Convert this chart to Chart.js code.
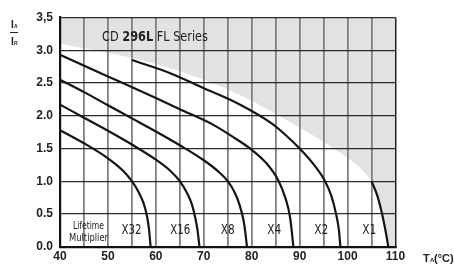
<!DOCTYPE html>
<html><head><meta charset="utf-8">
<script src="https://cdn.jsdelivr.net/npm/chart.js@4.4.1/dist/chart.umd.min.js"></script>
<style>html,body{margin:0;padding:0;background:#fff;}#wrap{width:454px;height:264px;position:relative;}</style>
</head><body><div id="wrap"><canvas id="c" width="454" height="264"></canvas></div>
<script>
// ---- data ----
const xTickLabels = [40, 50, 60, 70, 80, 90, 100, 110];
const yTickLabels = ['0.0', '0.5', '1.0', '1.5', '2.0', '2.5', '3.0', '3,5'];
const multiplierLabels = ['X32', 'X16', 'X8', 'X4', 'X2', 'X1'];
const titleParts = ['CD ', '296L', ' FL Series'];

const tempX32 = [40, 45, 50, 53, 55, 56.5, 57.5, 58.2, 58.6, 58.9];
const currX32 = [1.78, 1.58, 1.35, 1.17, 1.00, 0.82, 0.65, 0.45, 0.25, 0.00];
const tempX16 = [40, 45, 50, 55, 60, 63, 65, 66.5, 67.5, 68.2, 68.7, 69.1];
const currX16 = [2.17, 1.97, 1.77, 1.56, 1.33, 1.16, 1.00, 0.82, 0.65, 0.45, 0.25, 0.00];
const tempX8  = [40, 45, 50, 55, 60, 65, 70, 73, 75, 76.5, 77.5, 78.3, 78.7, 79.0];
const currX8  = [2.55, 2.36, 2.16, 1.96, 1.76, 1.55, 1.32, 1.15, 1.00, 0.82, 0.63, 0.40, 0.20, 0.00];
const tempX4  = [40, 50, 60, 65, 72, 76, 80, 83, 85.5, 87, 88, 88.7];
const currX4  = [2.93, 2.60, 2.27, 2.10, 1.86, 1.68, 1.48, 1.28, 1.02, 0.75, 0.45, 0.00];
const tempX2  = [55, 63, 70, 77, 84, 87, 90, 93, 95.3, 96.6, 97.6, 98.2, 98.5];
const currX2  = [2.85, 2.65, 2.42, 2.19, 1.89, 1.71, 1.50, 1.25, 1.00, 0.78, 0.50, 0.25, 0.00];
const tempX1  = [105, 106.2, 107.2, 107.9, 108.5];
const currX1  = [1.00, 0.78, 0.50, 0.25, 0.00];
const tempLimit = [40, 45, 50, 55, 60, 65, 70, 75, 80, 85, 90, 95, 100, 103, 105, 106.2, 107.2, 107.9, 108.5, 110];
const currLimit = [3.10, 3.03, 2.96, 2.88, 2.79, 2.68, 2.55, 2.40, 2.23, 2.03, 1.82, 1.60, 1.36, 1.18, 1.00, 0.78, 0.50, 0.25, 0.00, 0.00];

const curves = [
  [tempX32, currX32], [tempX16, currX16], [tempX8, currX8],
  [tempX4, currX4], [tempX2, currX2], [tempX1, currX1]
];
const pts = (t, v) => t.map((x, i) => ({x: x, y: v[i]}));

const datasets = [{
  data: pts(tempLimit, currLimit),
  borderWidth: 0, borderColor: 'rgba(0,0,0,0)', backgroundColor: '#e2e2e2',
  fill: 'end', pointRadius: 0, tension: 0.3
}];
curves.forEach(c => datasets.push({
  data: pts(c[0], c[1]), borderColor: '#151515', borderWidth: 2.2,
  fill: false, pointRadius: 0, tension: 0.35, cubicInterpolationMode: 'monotone'
}));

const PLOT = {left: 60, right: 395.5, top: 17.5, bottom: 246.7};

function fitText(ctx, text, cx, base, font, w) {
  ctx.save();
  ctx.font = font;
  const m = ctx.measureText(text).width;
  const s = w / m;
  ctx.translate(cx, base);
  ctx.scale(s, 1);
  ctx.textAlign = 'center';
  ctx.textBaseline = 'alphabetic';
  ctx.fillText(text, 0, 0);
  ctx.restore();
}

const textPlugin = {
  id: 'texts',
  afterDraw(chart) {
    const ctx = chart.ctx;
    const xs = chart.scales.x, ys = chart.scales.y;
    ctx.save();
    ctx.fillStyle = '#222';
    // title with bold part
    const fam = "'Liberation Sans Narrow','DejaVu Sans Condensed','Liberation Sans',sans-serif";
    const fonts = ['14px ' + fam, 'bold 14px ' + fam, '14px ' + fam];
    let widths = titleParts.map((p, i) => { ctx.font = fonts[i]; return ctx.measureText(p).width; });
    const total = widths.reduce((a, b) => a + b, 0);
    const target = 106, s = target / total;
    let x0 = 155 - target / 2;
    titleParts.forEach((p, i) => {
      ctx.save();
      ctx.font = fonts[i];
      ctx.translate(x0, 41);
      ctx.scale(s, 1);
      ctx.textAlign = 'left';
      ctx.fillText(p, 0, 0);
      ctx.restore();
      x0 += widths[i] * s;
    });
    // multiplier labels
    const base = ys.getPixelForValue(0.2);
    multiplierLabels.forEach((lab, i) => {
      const t = curves[i][0];
      const cx = xs.getPixelForValue(t[t.length - 1] - 4);
      fitText(ctx, lab, cx, base, '14px ' + fam, lab.length === 3 ? 20 : 14);
    });
    fitText(ctx, 'Lifetime', 88.5, 229, '10px ' + fam, 31);
    fitText(ctx, 'Multiplier', 88.5, 240.5, '10px ' + fam, 39);
    // y-axis title I_A / I_R
    ctx.font = 'bold 10px "Liberation Sans", Arial, sans-serif';
    ctx.textAlign = 'left';
    ctx.fillText('I', 11, 28);
    ctx.fillText('I', 11, 45);
    ctx.font = 'bold 5px "Liberation Sans", Arial, sans-serif';
    ctx.fillText('A', 14, 28);
    ctx.fillText('R', 14, 45);
    ctx.fillRect(10, 32, 8, 1);
    // x-axis title
    ctx.font = 'bold 11px "Liberation Sans", Arial, sans-serif';
    ctx.fillText('T', 423, 262);
    ctx.font = 'bold 6px "Liberation Sans", Arial, sans-serif';
    ctx.fillText('A', 430, 262);
    ctx.font = 'bold 11px "Liberation Sans", Arial, sans-serif';
    ctx.fillText('(°C)', 434, 262);
    ctx.restore();
  }
};

new Chart(document.getElementById('c'), {
  type: 'line',
  data: {datasets: datasets},
  plugins: [textPlugin],
  options: {
    responsive: false, animation: false, events: [],
    layout: {padding: {left: 0, right: 454 - PLOT.right, top: PLOT.top, bottom: 0}},
    plugins: {legend: {display: false}, tooltip: {enabled: false}, filler: {drawTime: 'beforeDraw'}},
    scales: {
      x: {
        type: 'linear', min: 40, max: 110,
        afterFit: s => { s.height = 264 - PLOT.bottom; },
        ticks: {
          stepSize: 5, autoSkip: false, maxRotation: 0, padding: 3,
          color: '#222', font: {family: '"Liberation Sans", Arial, sans-serif', size: 12, weight: 'bold'},
          callback: v => xTickLabels.includes(v) ? String(v) : ''
        },
        grid: {
          drawTicks: false,
          color: c => (c.tick && c.tick.value === 110) ? '#222' : '#808080',
          lineWidth: c => (c.tick && c.tick.value === 110) ? 1.5 : 1.8
        },
        border: {color: '#111', width: 2.2}
      },
      y: {
        type: 'linear', min: 0, max: 3.5,
        afterFit: s => { s.width = PLOT.left; },
        ticks: {
          stepSize: 0.5, padding: 7,
          color: '#222', font: {family: '"Liberation Sans", Arial, sans-serif', size: 12, weight: 'bold'},
          callback: v => yTickLabels[Math.round(v * 2)]
        },
        grid: {drawTicks: false, color: '#2a2a2a', lineWidth: 1.3},
        border: {color: '#111', width: 2.2}
      }
    }
  }
});
</script>
</body></html>
